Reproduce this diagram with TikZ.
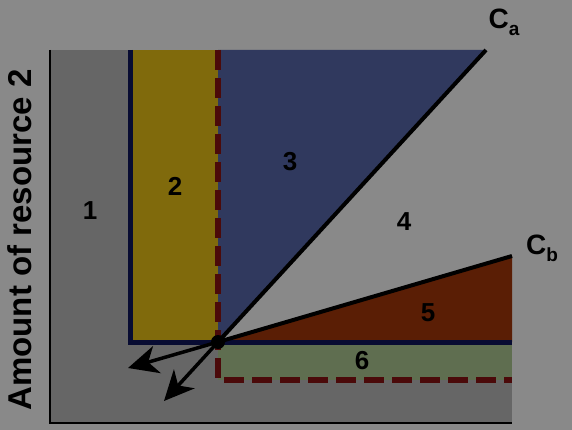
\documentclass[tikz,border=0pt]{standalone}
\usepackage{fontspec}
\setmainfont{Liberation Sans}
\usetikzlibrary{arrows.meta}
\definecolor{bggray}{HTML}{898989}
\definecolor{plotgray}{HTML}{666666}
\definecolor{olive}{HTML}{806A0C}
\definecolor{slate}{HTML}{30395E}
\definecolor{rust}{HTML}{5A1E05}
\definecolor{moss}{HTML}{5F6E50}
\definecolor{navy}{HTML}{080C32}
\definecolor{wine}{HTML}{4B0A0A}

\begin{document}
\begin{tikzpicture}[
  x=1pt, y=-1pt,
  num/.style={font=\fontsize{26}{28}\selectfont\bfseries,inner sep=0pt},
  clab/.style={font=\fontsize{28}{30}\selectfont\bfseries,inner sep=0pt},
  bnd/.style={draw=navy,line width=5pt},
  dsh/.style={draw=wine,line width=5.5pt,dash pattern=on 20pt off 8pt},
  cline/.style={draw=black,line width=4pt},
  arr/.style={-{Stealth[length=30pt,width=28pt,inset=9pt]},line width=3.5pt,draw=black}]
% frame and regions
\fill[bggray] (0,0) rectangle (572,430);
\useasboundingbox (0,0) rectangle (572,430);
\coordinate (o) at (218,342);
\coordinate (ca) at (486,50);
\coordinate (cb) at (512,256);
\fill[plotgray] (50,50) rectangle (512,423);
\fill[bggray] (o) -- (ca) -- (512,50) -- (cb) -- cycle;
\fill[olive] (130,50) rectangle (o);
\fill[slate] (218,50) -- (ca) -- (o) -- cycle;
\fill[rust] (o) -- (cb) -- (512,342) -- cycle;
\fill[moss] (o) rectangle (512,380);
% boundaries
\draw[black,line width=2pt] (50,50) -- (50,423) -- (512,423);
\draw[bnd] (130,50) -- (130,342) -- (512,342);
\draw[dsh] (218,50) -- (218,380) -- (512,380);
\draw[cline] (o) -- (ca);
\draw[cline] (o) -- (cb);
\draw[arr] (o) -- (128,368);
\draw[arr] (o) -- (164,401);
\fill[black] (o) circle (7pt);
% labels
\node[num] (r1) at (90,211) {1};
\node[num] (r2) at (175,186) {2};
\node[num] (r3) at (290,162) {3};
\node[num] (r4) at (404,222) {4};
\node[num] (r5) at (428,313) {5};
\node[num] (r6) at (362,361) {6};
\node[clab] (lca) at (504,22) {C\raisebox{-7pt}{\fontsize{19}{20}\selectfont a}};
\node[clab] (lcb) at (542,248) {C\raisebox{-7pt}{\fontsize{19}{20}\selectfont b}};
\node[font=\fontsize{33}{35}\selectfont\bfseries,rotate=90,inner sep=0pt] (ylab) at (20,240) {Amount of resource 2};
\end{tikzpicture}
\end{document}
